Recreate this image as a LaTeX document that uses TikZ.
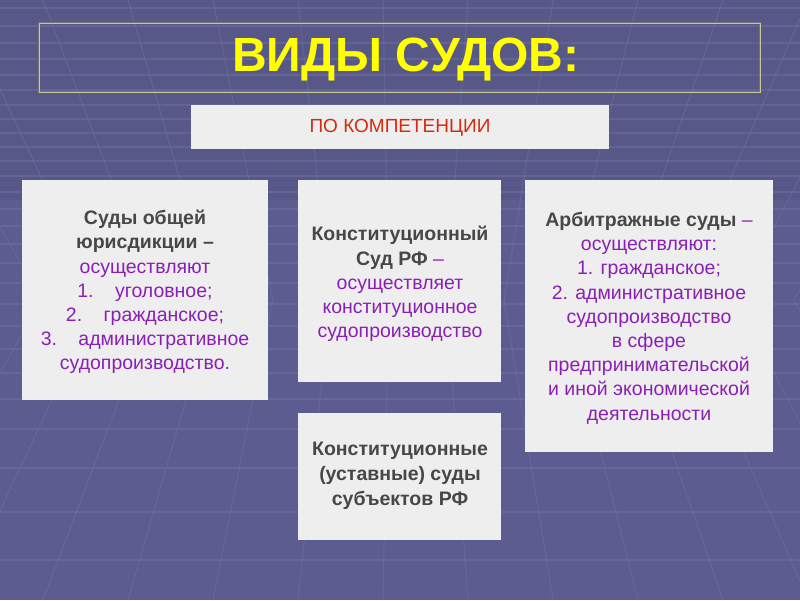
\documentclass[tikz,border=0pt]{standalone}
\usepackage{fontspec}
\setmainfont{Liberation Sans}
\definecolor{bg}{HTML}{5C5C90}
\definecolor{gridc}{HTML}{7878AC}
\definecolor{boxc}{HTML}{EEEEEE}
\definecolor{headc}{HTML}{474747}
\definecolor{purp}{HTML}{8A1FB5}
\definecolor{titlec}{HTML}{FFFF00}
\definecolor{redc}{HTML}{D42A10}
\definecolor{tframe}{HTML}{C8C890}
\begin{document}
\begin{tikzpicture}[x=1pt,y=-1pt,
  panel/.style={fill=boxc, draw=none},
  body/.style={align=center, font=\fontsize{19.5}{24.2}\selectfont, text=purp},
  gridline/.style={draw=gridc, opacity=0.38, line width=1.2pt},
]
\useasboundingbox (0,0) rectangle (800,600);
\fill[bg] (0,0) rectangle (800,600);
\fill[black, opacity=0.05] (0,0) rectangle (800,200);
% faint background grid (tunnel perspective)
\foreach \y in {8,26,43,59,75,90,105,119,133,147,161,176,192,209,226,244,263,283,304,326,349,373,399,429,468,512,560}
  {\draw[gridline] (0,\y) -- (800,\y);}
\foreach \k in {-7,...,7} {
  \pgfmathsetmacro{\xb}{400+85*(\k-0.2)}
  \pgfmathsetmacro{\xm}{400+(\xb-400)*0.681}
  \draw[gridline, line width=1pt] (\xb,0) -- (\xm,300) -- (\xb,600);
}
% title box
\draw[draw=black!55, line width=2.2pt] (39,23) rectangle (760,92);
\draw[draw=tframe, line width=1pt] (39,23) rectangle (760,92);
\node (title) [text=titlec, font=\fontsize{48}{50}\selectfont\bfseries] at (406,60) {ВИДЫ СУДОВ:};
% competence box
\fill[panel] (191,105) rectangle (609,149);
\node (comp) [text=redc, font=\fontsize{19}{21}\selectfont] at (400,128) {ПО КОМПЕТЕНЦИИ};
% left
\fill[panel] (22,180) rectangle (268,400);
\node (gen) [body] at (145,292) {\textcolor{headc}{\bfseries Суды общей}\\
\textcolor{headc}{\bfseries юрисдикции –}\\
осуществляют\\
1.\hspace{1.1em}уголовное;\\
2.\hspace{1.1em}гражданское;\\
3.\hspace{1.1em}административное\\
судопроизводство.};
% middle
\fill[panel] (298,180) rectangle (501,382);
\node (const) [body] at (400,284) {\textcolor{headc}{\bfseries Конституционный}\\
\textcolor{headc}{\bfseries Суд РФ} –\\
осуществляет\\
конституционное\\
судопроизводство};
% right
\fill[panel] (525,180) rectangle (773,452);
\node (arb) [body] at (649,318) {\textcolor{headc}{\bfseries Арбитражные суды} –\\
осуществляют:\\
1. гражданское;\\
2. административное\\
судопроизводство\\
в сфере\\
предпринимательской\\
и иной экономической\\
деятельности};
% bottom middle
\fill[panel] (298,413) rectangle (501,540);
\node (subj) [body, text=headc, font=\fontsize{19.5}{24.8}\selectfont\bfseries] at (400,476) {Конституционные\\
(уставные) суды\\
субъектов РФ};
\end{tikzpicture}
\end{document}
